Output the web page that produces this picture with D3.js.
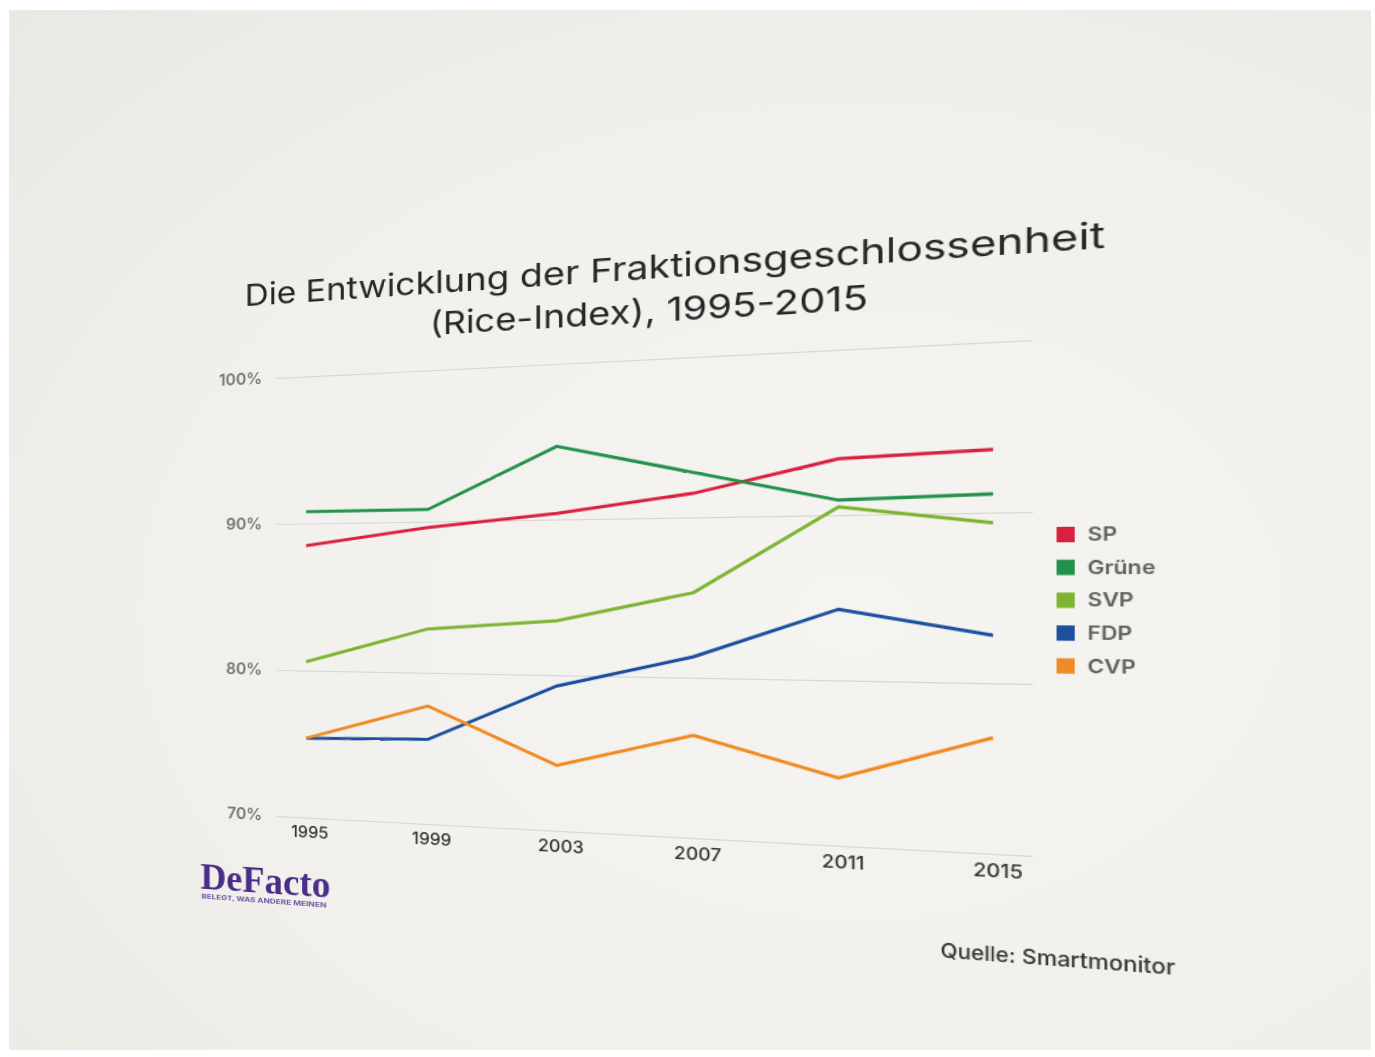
<!DOCTYPE html>
<meta charset="utf-8">

<head>
    <style>
        body { margin: 0; background: #ffffff; width: 1375px; height: 1057px; overflow: hidden; position: relative; }
        #paper {
            position: absolute; left: 9px; top: 10px; width: 1362px; height: 1040px;
            background: radial-gradient(ellipse at 62% 58%, #f5f4f0 0%, #f1f0ec 55%, #e9e8e3 100%);
        }
        #chart { position: absolute; left: 0; top: 0; transform-origin: 0 0; overflow: visible; }
    </style>
</head>

<body>

    <script src="https://d3js.org/d3.v7.js"></script>

    <div id="paper"></div>
    <svg id="chart" width="1000" height="720"></svg>

    <script>

        // data
        var years = [1995, 1999, 2003, 2007, 2011, 2015];
        var parties = ["SP", "Grüne", "SVP", "FDP", "CVP"];
        var sp = [88.5, 89.6, 90.4, 91.5, 93.4, 93.7];
        var gruene = [90.8, 90.8, 94.7, 92.8, 90.9, 91.1];
        var svp = [80.6, 82.9, 83.5, 85.3, 90.5, 89.4];
        var fdp = [75.4, 75.6, 79.3, 81.3, 84.3, 82.8];
        var cvp = [75.4, 77.8, 74.2, 76.4, 74.1, 76.8];
        var colors = ["#d9213f", "#23914b", "#7db533", "#1d4f9e", "#f08a24"];
        var yTicks = [70, 80, 90, 100];

        var series = [sp, gruene, svp, fdp, cvp].map(function (vals, i) {
            return { name: parties[i], color: colors[i], values: vals.map(function (v, j) { return { year: years[j], value: v }; }) };
        });

        // flat chart, later bent into the photo's perspective
        var W = 643, H = 438, ox = 150, oy = 150;

        var svg = d3.select("#chart");
        var g = svg.append("g").attr("transform", "translate(" + ox + "," + oy + ")");

        var x = d3.scalePoint().domain(years).range([29, 614]);
        var y = d3.scaleLinear().domain([70, 100]).range([H, 0]);

        // y axis with gridlines
        var yAxis = g.append("g")
            .call(d3.axisLeft(y).tickValues(yTicks).tickSize(-W).tickPadding(15)
                .tickFormat(function (d) { return d + "%"; }));
        yAxis.select(".domain").remove();
        yAxis.selectAll(".tick line").attr("stroke", "#d6d5d1").attr("stroke-width", 1.2);
        yAxis.selectAll(".tick text")
            .attr("font-family", "Inter, 'Open Sans', sans-serif")
            .attr("font-size", 16)
            .attr("font-weight", 600)
            .attr("fill", "#737373")
            .attr("dy", "0.25em");

        // x axis labels
        var xAxis = g.append("g")
            .attr("transform", "translate(0," + H + ")")
            .call(d3.axisBottom(x).tickSize(0).tickPadding(9));
        xAxis.select(".domain").remove();
        xAxis.selectAll(".tick text")
            .attr("font-family", "Inter, 'Open Sans', sans-serif")
            .attr("font-size", 16)
            .attr("font-weight", 500)
            .attr("fill", "#353535")
            .attr("dx", 3);

        // lines
        var line = d3.line()
            .x(function (d) { return x(d.year); })
            .y(function (d) { return y(d.value); });

        g.selectAll(".party")
            .data(series)
            .enter().append("path")
            .attr("class", "party")
            .attr("d", function (d) { return line(d.values); })
            .attr("fill", "none")
            .attr("stroke", function (d) { return d.color; })
            .attr("stroke-width", 3);

        // legend
        var legend = g.append("g").attr("transform", "translate(660,159)");
        var item = legend.selectAll(".item")
            .data(series)
            .enter().append("g")
            .attr("class", "item")
            .attr("transform", function (d, i) { return "translate(0," + (i * 27.7) + ")"; });
        item.append("rect")
            .attr("width", 13).attr("height", 13)
            .attr("fill", function (d) { return d.color; });
        item.append("text")
            .attr("x", 22).attr("y", 12)
            .attr("font-family", "Inter, 'Open Sans', sans-serif")
            .attr("font-size", 16)
            .attr("font-weight", 600)
            .attr("fill", "#5e5e5e")
            .text(function (d) { return d.name; });

        // title
        var title = g.append("text")
            .attr("text-anchor", "middle")
            .attr("font-family", "Inter, 'Open Sans', sans-serif")
            .attr("font-size", 30)
            .attr("fill", "#262626");
        title.append("tspan").attr("x", 331).attr("y", -74)
            .attr("textLength", 727).attr("lengthAdjust", "spacingAndGlyphs")
            .text("Die Entwicklung der Fraktionsgeschlossenheit");
        title.append("tspan").attr("x", 334).attr("y", -34)
            .attr("textLength", 372).attr("lengthAdjust", "spacingAndGlyphs")
            .text("(Rice-Index), 1995-2015");

        // logo
        g.append("text")
            .attr("x", -78).attr("y", 516)
            .attr("font-family", "'Liberation Serif', 'DejaVu Serif', serif")
            .attr("font-weight", 700)
            .attr("font-size", 38)
            .attr("fill", "#4b2c86")
            .attr("textLength", 131).attr("lengthAdjust", "spacingAndGlyphs")
            .text("DeFacto");
        g.append("text")
            .attr("x", -77).attr("y", 526)
            .attr("font-family", "Inter, sans-serif")
            .attr("font-weight", 700)
            .attr("font-size", 6.5)
            .attr("fill", "#6b55a3")
            .attr("textLength", 126).attr("lengthAdjust", "spacingAndGlyphs")
            .text("BELEGT, WAS ANDERE MEINEN");

        // source
        g.append("text")
            .attr("x", 575).attr("y", 530)
            .attr("font-family", "Inter, 'Open Sans', sans-serif")
            .attr("font-size", 17)
            .attr("font-weight", 500)
            .attr("fill", "#333333")
            .attr("textLength", 168).attr("lengthAdjust", "spacingAndGlyphs")
            .text("Quelle: Smartmonitor");

        // projective warp: flat plot corners -> corners seen in the photo
        function homography(src, dst) {
            var A = [], i, j, k;
            for (i = 0; i < 4; i++) {
                var sx = src[i][0], sy = src[i][1], dx = dst[i][0], dy = dst[i][1];
                A.push([sx, sy, 1, 0, 0, 0, -dx * sx, -dx * sy, dx]);
                A.push([0, 0, 0, sx, sy, 1, -dy * sx, -dy * sy, dy]);
            }
            for (i = 0; i < 8; i++) {
                var p = i;
                for (j = i + 1; j < 8; j++) if (Math.abs(A[j][i]) > Math.abs(A[p][i])) p = j;
                var t = A[i]; A[i] = A[p]; A[p] = t;
                for (j = 0; j < 8; j++) {
                    if (j === i) continue;
                    var f = A[j][i] / A[i][i];
                    for (k = i; k < 9; k++) A[j][k] -= f * A[i][k];
                }
            }
            return A.map(function (r, i) { return r[8] / r[i]; });
        }

        var flat = [[ox, oy], [ox + W, oy], [ox + W, oy + H], [ox, oy + H]];
        var photo = [[277, 378], [1033, 340], [1033, 856], [277, 816]];
        var h = homography(flat, photo);

        d3.select("#chart").style("transform",
            "matrix3d(" + [h[0], h[3], 0, h[6], h[1], h[4], 0, h[7], 0, 0, 1, 0, h[2], h[5], 0, 1].join(",") + ")");

    </script>
</body>
</html>
